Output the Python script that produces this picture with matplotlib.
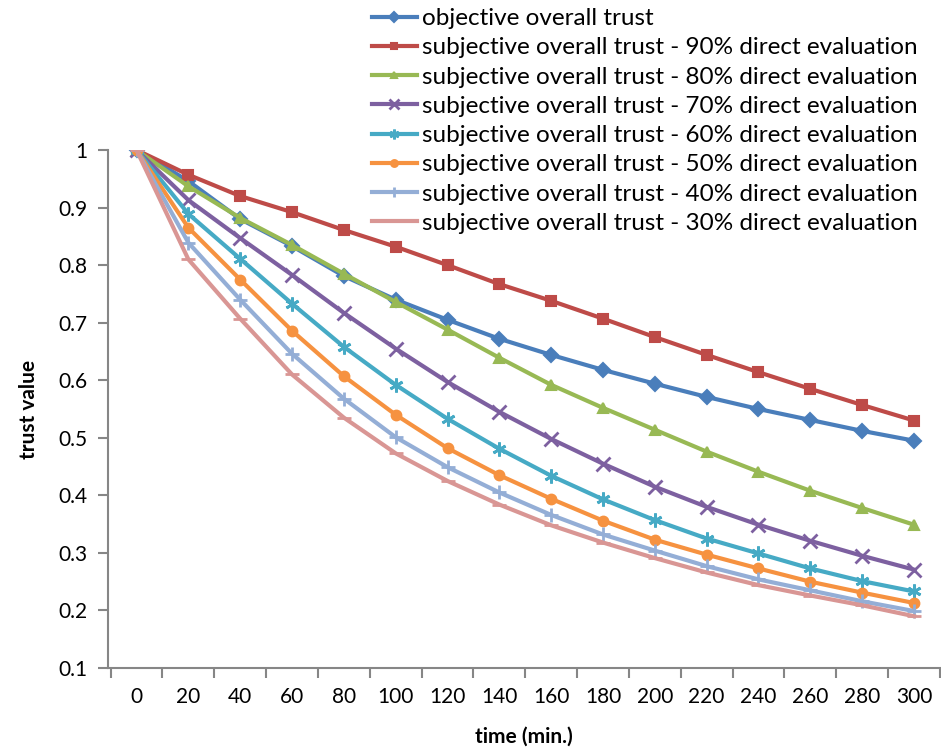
import matplotlib.pyplot as plt

plt.rcParams['font.family'] = ['Lato', 'DejaVu Sans']

times = [0, 20, 40, 60, 80, 100, 120, 140, 160, 180, 200, 220, 240, 260, 280, 300]

objective = [1.0, 0.946, 0.88, 0.833, 0.781, 0.74, 0.705, 0.672, 0.644, 0.618,
             0.594, 0.571, 0.55, 0.531, 0.512, 0.495]
subj_90 = [1.0, 0.957, 0.92, 0.892, 0.861, 0.832, 0.80, 0.767, 0.738, 0.707,
           0.675, 0.644, 0.614, 0.585, 0.557, 0.53]
subj_80 = [1.0, 0.937, 0.882, 0.835, 0.785, 0.736, 0.688, 0.639, 0.592, 0.552,
           0.514, 0.476, 0.441, 0.408, 0.378, 0.349]
subj_70 = [1.0, 0.913, 0.847, 0.783, 0.717, 0.655, 0.597, 0.545, 0.498, 0.455,
           0.415, 0.38, 0.349, 0.321, 0.295, 0.271]
subj_60 = [1.0, 0.889, 0.811, 0.733, 0.658, 0.592, 0.533, 0.481, 0.434, 0.393,
           0.357, 0.325, 0.299, 0.273, 0.251, 0.233]
subj_50 = [1.0, 0.865, 0.775, 0.686, 0.607, 0.54, 0.482, 0.435, 0.394, 0.356,
           0.323, 0.297, 0.273, 0.25, 0.231, 0.213]
subj_40 = [1.0, 0.839, 0.74, 0.646, 0.568, 0.501, 0.449, 0.405, 0.366, 0.332,
           0.304, 0.277, 0.254, 0.235, 0.216, 0.199]
subj_30 = [1.0, 0.81, 0.707, 0.61, 0.535, 0.473, 0.425, 0.384, 0.348, 0.318,
           0.291, 0.266, 0.244, 0.226, 0.209, 0.19]

series = [
    ("objective overall trust", objective, '#4A7EBB', 'D'),
    ("subjective overall trust - 90% direct evaluation", subj_90, '#BE4B48', 's'),
    ("subjective overall trust - 80% direct evaluation", subj_80, '#98B954', '^'),
    ("subjective overall trust - 70% direct evaluation", subj_70, '#7D60A0', 'x'),
    ("subjective overall trust - 60% direct evaluation", subj_60, '#46AAC5', (6, 2, 0)),
    ("subjective overall trust - 50% direct evaluation", subj_50, '#F69240', 'o'),
    ("subjective overall trust - 40% direct evaluation", subj_40, '#94AED6', '+'),
    ("subjective overall trust - 30% direct evaluation", subj_30, '#D99694', '_'),
]

fig = plt.figure(figsize=(9.41, 7.5), dpi=100)
ax = fig.add_axes([0.1148, 0.1093, 0.884, 0.6907])

pos = list(range(len(times)))
for name, vals, col, mk in series:
    ms = 7
    mew = 1.5
    if mk in ('x', '+', '_') or isinstance(mk, tuple):
        ms = 10
        mew = 2
    ax.plot(pos, vals, color=col, lw=3, marker=mk, markersize=ms,
            markeredgewidth=mew, markerfacecolor=col, markeredgecolor=col,
            label=name)

ax.set_xlim(-0.55, 15.5)
ax.set_ylim(0.1, 1.0)
ax.set_yticks([0.1, 0.2, 0.3, 0.4, 0.5, 0.6, 0.7, 0.8, 0.9, 1.0])
ax.set_yticklabels(['0.1', '0.2', '0.3', '0.4', '0.5', '0.6', '0.7', '0.8', '0.9', '1'])
ax.set_xticks(pos)
ax.set_xticklabels([str(t) for t in times])
ax.set_xticks([p - 0.5 for p in range(len(times) + 1)], minor=True)
ax.tick_params(axis='x', which='major', length=0, pad=14, labelsize=15)
ax.tick_params(axis='x', which='minor', length=7, width=1.5, color='#868686', direction='out')
ax.tick_params(axis='y', length=7, width=1.5, color='#868686', labelsize=15, pad=8)

for s in ['top', 'right']:
    ax.spines[s].set_visible(False)
for s in ['left', 'bottom']:
    ax.spines[s].set_color('#868686')
    ax.spines[s].set_linewidth(1.5)

ax.set_xlabel("time (min.)", fontsize=15, fontweight='bold', labelpad=14)
ax.set_ylabel("trust value", fontsize=15, fontweight='bold', labelpad=14)

fig.legend(loc='upper left', bbox_to_anchor=(0.377, 1.012), frameon=False,
           fontsize=17.5, handlelength=1.85, handletextpad=0.2, labelspacing=0.34,
           borderpad=0.2, markerscale=0.7)

fig.savefig('out.png', dpi=100)
